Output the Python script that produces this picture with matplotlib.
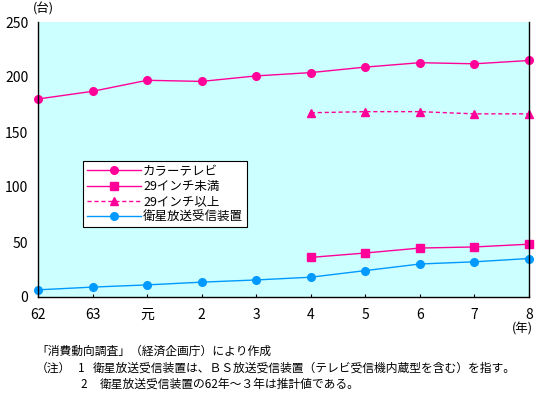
import numpy as np
import matplotlib
matplotlib.use('Agg')
import matplotlib.pyplot as plt

plt.rcParams['font.family'] = ['Noto Sans CJK JP', 'DejaVu Sans']

years = ['62', '63', '元', '2', '3', '4', '5', '6', '7', '8']
color_tv = [180, 187, 197, 196, 201, 204, 209, 213, 212, 215]
under_29 = [36, 40, 44.5, 45.5, 48]
over_29 = [167.5, 168.5, 168.5, 166.5, 166.5]
satellite = [6.5, 9, 11, 13.5, 15.5, 18, 24, 30, 32, 35]

pink = '#ff0099'
blue = '#0099ff'

x = np.arange(len(years))
x_late = x[5:]

fig = plt.figure(figsize=(5.44, 3.93), dpi=100)
ax = fig.add_axes([38/544, 1-297/393, (529-38)/544, (297-22)/393])
ax.set_facecolor('#ccffff')

ax.plot(x, color_tv, color=pink, lw=1, marker='o', ms=5.5, clip_on=False, label='カラーテレビ')
ax.plot(x_late, under_29, color=pink, lw=1, marker='s', ms=5.5, clip_on=False, label='29インチ未満')
ax.plot(x_late, over_29, color=pink, lw=1, ls=(0, (3, 2)), marker='^', ms=6, clip_on=False,
        label='29インチ以上')
ax.plot(x, satellite, color=blue, lw=1, marker='o', ms=5.5, clip_on=False, label='衛星放送受信装置')

ax.set_xlim(0, 9)
ax.set_ylim(0, 250)
ax.set_yticks(np.arange(0, 251, 50))
ax.set_xticks(x)
ax.set_xticklabels(years)
ax.tick_params(axis='x', direction='in', length=2.5, width=0.8, pad=8, labelsize=10)
ax.tick_params(axis='y', length=0, pad=7, labelsize=10)
for s in ax.spines.values():
    s.set_linewidth(1)
ax.spines['top'].set_visible(False)

leg = ax.legend(loc='upper left', bbox_to_anchor=(83/544, 1-161/393),
                bbox_transform=fig.transFigure, fancybox=False, framealpha=1,
                edgecolor='black', fontsize=9, handlelength=4.3,
                handletextpad=0.2, labelspacing=0.18, borderpad=0.3,
                borderaxespad=0)
leg.get_frame().set_linewidth(0.8)

fig.text(33/544, 1-9/393, '(台)', fontsize=9, va='center', ha='left')
fig.text(522/544, 1-329/393, '(年)', fontsize=9, va='center', ha='center')

note_size = 8.5
fig.text(36/544, 1-351/393, '「消費動向調査」（経済企画庁）により作成', fontsize=note_size, va='center')
fig.text(36/544, 1-368/393, '（注）', fontsize=note_size, va='center')
fig.text(78/544, 1-368/393, '1', fontsize=note_size, va='center')
fig.text(93/544, 1-368/393, '衛星放送受信装置は、ＢＳ放送受信装置（テレビ受信機内蔵型を含む）を指す。',
         fontsize=note_size, va='center')
fig.text(80/544, 1-384/393, '2', fontsize=note_size, va='center')
fig.text(100/544, 1-384/393, '衛星放送受信装置の62年～３年は推計値である。', fontsize=note_size, va='center')

fig.savefig('out.png', dpi=100)
